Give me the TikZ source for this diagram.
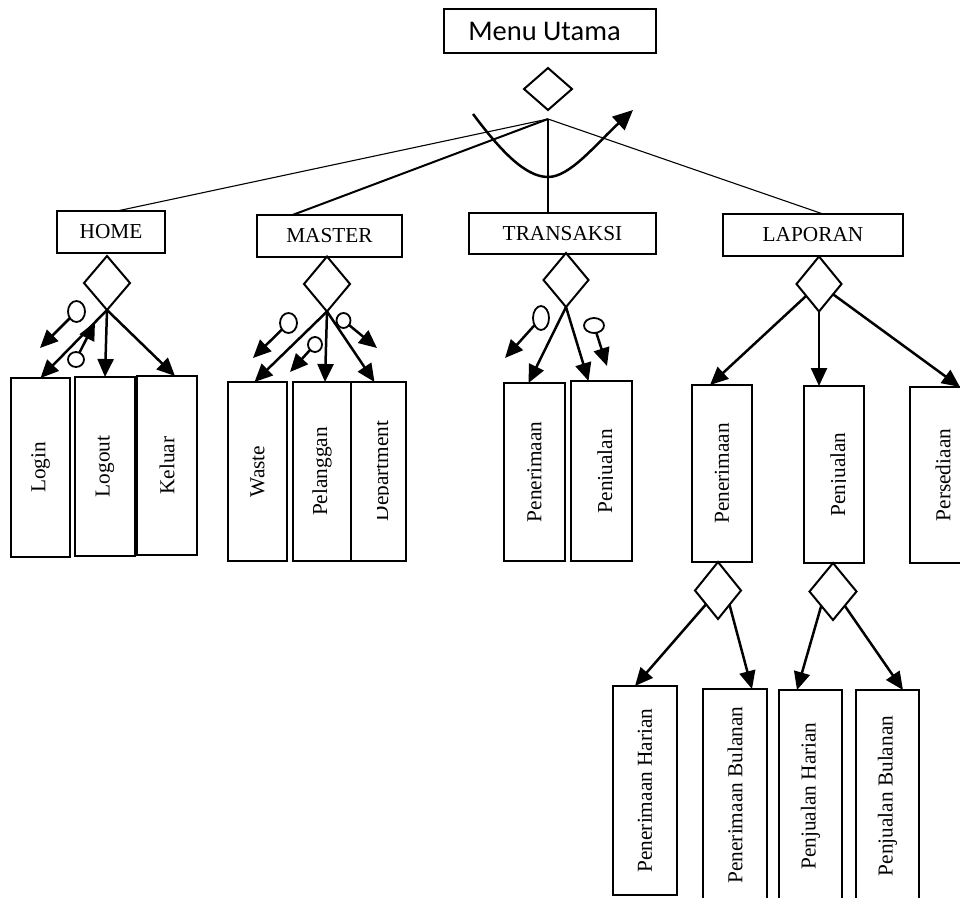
\documentclass[tikz,border=0pt]{standalone}
\usepackage{fontspec}
\setmainfont{Liberation Serif}
\newfontfamily\calibrifont{Carlito}
\usepackage{graphicx}
\usetikzlibrary{shapes.geometric,arrows.meta,calc}

\begin{document}
\begin{tikzpicture}[x=1pt,y=-1pt,
  every node/.style={inner sep=0pt, outer sep=0pt},
  menubox/.style={draw, line width=1.3pt, minimum width=212pt, minimum height=44pt,
    font=\calibrifont\fontsize{28.5}{32}\selectfont},
  headbox/.style={draw, line width=1.1pt, minimum width=#1pt, minimum height=42pt,
    font=\fontsize{21.3}{25}\selectfont},
  leaf/.style 2 args={draw, line width=1.1pt, minimum width=#1pt, minimum height=#2pt,
    font=\fontsize{21.3}{25}\selectfont},
  leaftext/.style={rotate=90, anchor=base, font=\fontsize{21.3}{25}\selectfont},
  choice/.style 2 args={diamond, draw, line width=2pt, minimum width=#1pt, minimum height=#2pt},
  couple/.style 2 args={ellipse, draw, line width=1.8pt, minimum width=#1pt, minimum height=#2pt},
  flow/.style={line width=2.5pt, -{Triangle[length=18pt,width=16pt]}},
  link/.style={line width=1.1pt},
]
\clip (0,0) rectangle (960,897);

% main menu and its selection
\node[menubox] (menu) at (550,31) {\hspace*{-11pt}Menu Utama};
\node[choice={48}{42}] (d0) at (548,89) {};
\coordinate (hub) at (548,119);

% first level
\node[headbox=108] (home) at (111,232) {HOME};
\node[headbox=145] (master) at (329.5,236) {MASTER};
\node[headbox=187, minimum height=41pt] (trans) at (562.5,233.5) {TRANSAKSI};
\node[headbox=180] (lap) at (813,235) {LAPORAN};

\draw[link] (hub) -- ([xshift=6pt]home.north);
\draw[line width=2pt] (hub) -- ([xshift=-37pt]master.north);
\draw[link] (hub) -- (hub |- trans.north);
\draw[link] (hub) -- ([xshift=10pt]lap.north);

% iteration loop
\draw[line width=2.5pt, -{Triangle[length=20pt,width=18pt]}]
  (473,114) .. controls (500,150) and (525,177) .. (548,177)
  .. controls (570,177) and (595,145) .. (633,110);

% selections below the first level
\node[choice={46}{54}] (dH) at (107,283) {};
\node[choice={46}{55}] (dM) at (327,284) {};
\node[choice={45}{54}] (dT) at (566,280) {};
\node[choice={45}{55}] (dL) at (819,284) {};

% HOME
\node[leaf={59}{179}] (login) at (40.5,467.5) {\rotatebox{90}{Login}};
\node[leaf={60}{179}] (logout) at (105,466.5) {\rotatebox{90}{Logout}};
\node[leaf={60}{179}] (keluar) at (167,465.5) {\rotatebox{90}{Keluar}};
\draw[flow] (dH.south) -- (login.north);
\draw[flow] (dH.south) -- (logout.north);
\draw[flow] (dH.south) -- ([xshift=8pt]keluar.north);
\node[couple={17}{21}] (cH1) at (76.5,311.5) {};
\coordinate (tH1) at (40,348);
\draw[flow] (cH1) -- (tH1);
\node[couple={16}{15}] (cH2) at (76,359.5) {};
\coordinate (tH2) at (95,322);
\draw[flow] (cH2) -- (tH2);

% MASTER
\node[leaf={59}{179}] (waste) at (257.5,471.5) {\rotatebox{90}{Waste}};
\node[leaf={58}{179}] (pel) at (322,471.5) {\rotatebox{90}{Pelanggan}};
\node[leaf={55}{179}] (dept) at (378.5,471.5) {};
\begin{scope}
  \clip (377,382) rectangle (388,561);
  \node[leaftext] (deptT) at (388,471) {Department};
\end{scope}
\draw[flow] (dM.south) -- ([xshift=-3pt]waste.north);
\draw[flow] (dM.south) -- ([xshift=3pt]pel.north);
\draw[flow] (dM.south) -- ([xshift=-4pt]dept.north);
\node[couple={17}{20}] (cM1) at (288.5,323) {};
\coordinate (tM1) at (253,358);
\draw[flow] (cM1) -- (tM1);
\node[couple={14}{15}] (cM2) at (315,344.5) {};
\coordinate (tM2) at (290,372);
\draw[flow] (cM2) -- (tM2);
\node[couple={14}{15}] (cM3) at (343.5,320.5) {};
\coordinate (tM3) at (377,348);
\draw[flow] (cM3) -- (tM3);

% TRANSAKSI
\node[leaf={61}{178}] (tpen) at (534.5,472) {\rotatebox{90}{Penerimaan}};
\node[leaf={61}{180}] (tjual) at (601.5,471) {};
\begin{scope}
  \clip (571,381) rectangle (612,561);
  \node[leaftext] (tjualT) at (612,471) {Penjualan};
\end{scope}
\draw[flow] (dT.south) -- ([xshift=-6pt]tpen.north);
\draw[flow] (dT.south) -- ([xshift=-13pt]tjual.north);
\node[couple={16}{24}] (cT1) at (541,318) {};
\coordinate (tT1) at (505,358);
\draw[flow] (cT1) -- (tT1);
\node[couple={20}{15}] (cT2) at (594,325.5) {};
\coordinate (tT2) at (607,366);
\draw[flow] (cT2) -- (tT2);

% LAPORAN
\node[leaf={60}{177}] (lpen) at (722,473.5) {\rotatebox{90}{Penerimaan}};
\node[leaf={60}{177}] (ljual) at (834,474.5) {};
\begin{scope}
  \clip (804,386) rectangle (845,563);
  \node[leaftext] (ljualT) at (845,474.5) {Penjualan};
\end{scope}
\node[leaf={60}{176}] (lpers) at (940,475) {\hspace*{6pt}\rotatebox{90}{Persediaan}};
\draw[flow] (dL) -- ([xshift=-12pt]lpen.north);
\draw[flow] (dL) -- ([xshift=-15pt]ljual.north);
\draw[flow] (dL) -- ([xshift=20pt]lpers.north);

% report periods
\node[choice={46}{57}] (dP) at (718,590.5) {};
\node[choice={47}{57}] (dJ) at (833,591.5) {};
\node[leaf={64}{209}] (ph) at (645,790.5) {\rotatebox{90}{Penerimaan Harian}};
\node[leaf={64}{212}] (pb) at (735,795) {\rotatebox{90}{Penerimaan Bulanan}};
\node[leaf={63}{212}] (jh) at (810.5,796) {\rotatebox{90}{Penjualan Harian}};
\node[leaf={63}{212}] (jb) at (887.5,796) {\rotatebox{90}{Penjualan Bulanan}};
\draw[flow] (dP) -- ([xshift=-10pt]ph.north);
\draw[flow] ($(dP.east)!0.5!(dP.south)$) -- ([xshift=17pt]pb.north);
\draw[flow] ($(dJ.west)!0.5!(dJ.south)$) -- ([xshift=-13.5pt]jh.north);
\draw[flow] ($(dJ.east)!0.5!(dJ.south)$) -- ([xshift=15.5pt]jb.north);
\end{tikzpicture}
\end{document}
